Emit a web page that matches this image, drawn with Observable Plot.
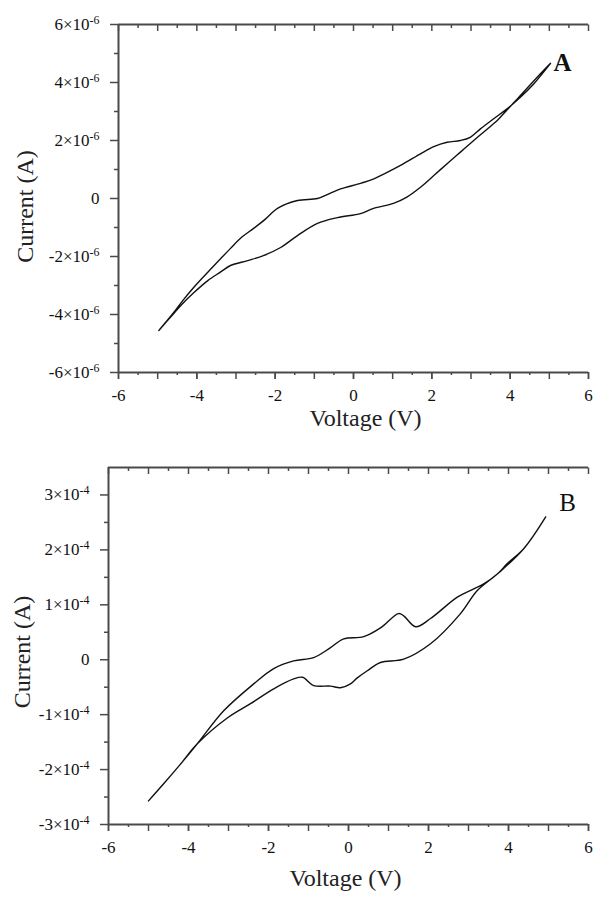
<!DOCTYPE html>
<html><head><meta charset="utf-8">
<script src="https://cdn.jsdelivr.net/npm/d3@7"></script>
<script src="https://cdn.jsdelivr.net/npm/@observablehq/plot@0.6"></script>
<style>
body{margin:0;background:#fff;}
#wrap{width:595px;}
#wrap svg{display:block;}
</style></head><body><div id="wrap"></div>
<script>
// ---------- Panel A data (current in A) ----------
const voltageA_forward = [-4.97,-4.6,-4.36,-4.08,-3.72,-3.4,-3.14,-2.7,-2.3,-1.86,-1.43,-0.92,-0.41,0.18,0.51,1.02,1.35,1.71,2.05,2.39,2.73,3.07,3.41,3.67,3.79,4.2,4.69,5.03];
const currentA_forward = [-4.55e-6,-3.98e-6,-3.62e-6,-3.25e-6,-2.83e-6,-2.54e-6,-2.31e-6,-2.14e-6,-1.97e-6,-1.69e-6,-1.28e-6,-0.86e-6,-0.66e-6,-0.52e-6,-0.34e-6,-0.17e-6,0.04e-6,0.39e-6,0.79e-6,1.2e-6,1.6e-6,2.0e-6,2.39e-6,2.69e-6,2.86e-6,3.46e-6,4.18e-6,4.66e-6];
const voltageA_reverse = [5.03,4.6,4.26,3.92,3.58,3.24,2.98,2.73,2.39,2.05,1.71,1.2,0.52,0.2,-0.33,-0.6,-0.92,-1.43,-1.94,-2.25,-2.55,-2.85,-3.14,-3.6,-4.07,-4.36,-4.6,-4.97];
const currentA_reverse = [4.66e-6,3.95e-6,3.49e-6,3.09e-6,2.75e-6,2.4e-6,2.11e-6,2.0e-6,1.94e-6,1.79e-6,1.54e-6,1.14e-6,0.68e-6,0.53e-6,0.33e-6,0.18e-6,0.0,-0.07e-6,-0.34e-6,-0.71e-6,-1.03e-6,-1.33e-6,-1.72e-6,-2.37e-6,-3.05e-6,-3.52e-6,-3.95e-6,-4.55e-6];

// ---------- Panel B data (current in A) ----------
const voltageB_forward = [-5.0,-4.6,-4.2,-3.78,-3.03,-2.45,-1.87,-1.37,-1.15,-0.87,-0.45,-0.2,0.05,0.22,0.47,0.8,1.38,2.05,2.8,3.22,3.72,4.38,4.93];
const currentB_forward = [-2.57e-4,-2.24e-4,-1.9e-4,-1.53e-4,-1.06e-4,-0.8e-4,-0.53e-4,-0.35e-4,-0.32e-4,-0.47e-4,-0.48e-4,-0.51e-4,-0.44e-4,-0.33e-4,-0.2e-4,-0.05e-4,0.01e-4,0.29e-4,0.84e-4,1.26e-4,1.56e-4,2.02e-4,2.6e-4];
const voltageB_reverse = [4.93,4.38,3.97,3.72,3.38,3.13,2.72,2.05,1.68,1.38,1.25,0.8,0.38,-0.12,-0.45,-0.87,-1.37,-1.87,-2.37,-3.12,-3.78,-4.2,-4.6,-5.0];
const currentB_reverse = [2.6e-4,2.02e-4,1.75e-4,1.56e-4,1.38e-4,1.29e-4,1.14e-4,0.75e-4,0.6e-4,0.8e-4,0.84e-4,0.58e-4,0.42e-4,0.38e-4,0.22e-4,0.04e-4,-0.02e-4,-0.16e-4,-0.44e-4,-0.93e-4,-1.53e-4,-1.9e-4,-2.24e-4,-2.57e-4];

// ---------- Ticks ----------
const xLabelTicks = [-6,-4,-2,0,2,4,6];
const xMajorTicks = [-6,-5,-4,-3,-2,-1,0,1,2,3,4,5,6];
const xMinorTicks = [-5.5,-4.5,-3.5,-2.5,-1.5,-0.5,0.5,1.5,2.5,3.5,4.5,5.5];
const yDomainA = [-6e-6, 6e-6];
const yLabelTicksA = [-6e-6,-4e-6,-2e-6,0,2e-6,4e-6,6e-6];
const yMinorTicksA = [-5e-6,-3e-6,-1e-6,1e-6,3e-6,5e-6];
const yDomainB = [-3e-4, 3.5e-4];
const yLabelTicksB = [-3e-4,-2e-4,-1e-4,0,1e-4,2e-4,3e-4];
const yMinorTicksB = [-2.5e-4,-1.5e-4,-0.5e-4,0.5e-4,1.5e-4,2.5e-4];

const xTitle = "Voltage (V)";
const yTitle = "Current (A)";

function loop(v1, i1, v2, i2) {
  return v1.map((v, k) => ({v, i: i1[k]})).concat(v2.map((v, k) => ({v, i: i2[k]})));
}

const AX = "#4a4a4a";
const FONT = "'Liberation Serif', 'Times New Roman', serif";

function sciFmt(exp) {
  const p = Math.pow(10, exp);
  return d => Math.abs(d) < p / 100 ? "0" : `${Math.round(d / p)}×10|${exp}`;
}

function panel(o) {
  const top = o.yDomain[1];
  // data units per pixel of the y scale, so inward top ticks get a pixel length
  const unitPerPx = (o.yDomain[1] - o.yDomain[0]) / (o.height - o.mt - o.mb);
  const chart = Plot.plot({
    width: 595, height: o.height,
    marginLeft: o.ml, marginRight: 7, marginTop: o.mt, marginBottom: o.mb,
    style: {fontFamily: FONT, fontSize: "17px", color: "#111", background: "#fff"},
    x: {domain: [-6, 6]},
    y: {domain: o.yDomain},
    marks: [
      Plot.ruleX([-6], {stroke: AX, strokeWidth: 2}),
      Plot.ruleY([o.yDomain[0]], {stroke: AX, strokeWidth: 2}),
      Plot.ruleY([top], {stroke: AX, strokeWidth: 2}),
      Plot.axisX(xMinorTicks, {anchor: "bottom", tickSize: 3, tickFormat: () => "", label: null, stroke: AX, strokeWidth: 1.5}),
      Plot.axisX(xMajorTicks, {anchor: "bottom", tickSize: 7, tickFormat: () => "", label: null, stroke: AX, strokeWidth: 1.5}),
      Plot.axisX(xLabelTicks, {anchor: "bottom", tickSize: 7, tickPadding: 9, tickFormat: d => String(d), label: null, stroke: AX, strokeWidth: 1.5, fill: "#111"}),
      // inward-pointing ticks along the top edge
      Plot.link(xMinorTicks, {x1: d => d, x2: d => d, y1: () => top, y2: () => top - 3.5 * unitPerPx, stroke: AX, strokeWidth: 1.5}),
      Plot.link(xMajorTicks, {x1: d => d, x2: d => d, y1: () => top, y2: () => top - 6.5 * unitPerPx, stroke: AX, strokeWidth: 1.5}),
      Plot.axisY(o.yMinor, {anchor: "left", tickSize: 4, tickFormat: () => "", label: null, stroke: AX, strokeWidth: 1.5}),
      Plot.axisY(o.yLabels, {anchor: "left", tickSize: 8, tickPadding: 11, tickFormat: sciFmt(o.exp), label: null, stroke: AX, strokeWidth: 1.5, fill: "#111"}),
      Plot.line(o.data, {x: "v", y: "i", stroke: "#111", strokeWidth: 1.4, curve: "catmull-rom"}),
      Plot.text([o.tag], {frameAnchor: "top-right", textAnchor: "middle", lineAnchor: "middle", dx: o.tagDx, dy: o.tagDy, fontSize: 25, fontWeight: o.tagWeight, fill: "#111"}),
      Plot.text([xTitle], {frameAnchor: "bottom", textAnchor: "middle", lineAnchor: "middle", dx: o.xtDx, dy: o.xtDy, fontSize: 24, fill: "#222"}),
      Plot.text([yTitle], {frameAnchor: "left", textAnchor: "middle", lineAnchor: "middle", dx: o.ytDx, dy: o.ytDy, rotate: -90, fontSize: 24, fill: "#222"})
    ]
  });
  const ns = "http://www.w3.org/2000/svg";
  chart.querySelectorAll("text").forEach(t => {
    const s = t.textContent;
    if (!s.includes("|")) return;
    const [base, ex] = s.split("|");
    t.textContent = "";
    const a = document.createElementNS(ns, "tspan");
    a.textContent = base;
    const b = document.createElementNS(ns, "tspan");
    b.textContent = ex;
    b.setAttribute("dy", "-0.5em");
    b.setAttribute("font-size", "70%");
    t.append(a, b);
  });
  return chart;
}

const wrap = document.getElementById("wrap");
wrap.append(panel({
  height: 448, ml: 118, mt: 24, mb: 76,
  yDomain: yDomainA, yLabels: yLabelTicksA, yMinor: yMinorTicksA, exp: -6,
  data: loop(voltageA_forward, currentA_forward, voltageA_reverse, currentA_reverse),
  tag: "A", tagDx: -26, tagDy: 38, tagWeight: "bold",
  xtDx: 12, xtDy: 46, ytDx: -93, ytDy: 8
}));
wrap.append(panel({
  height: 449, ml: 108, mt: 19, mb: 73,
  yDomain: yDomainB, yLabels: yLabelTicksB, yMinor: yMinorTicksB, exp: -4,
  data: loop(voltageB_forward, currentB_forward, voltageB_reverse, currentB_reverse),
  tag: "B", tagDx: -21, tagDy: 35, tagWeight: "normal",
  xtDx: -3, xtDy: 54, ytDx: -86, ytDy: 6
}));
</script>
</body></html>
